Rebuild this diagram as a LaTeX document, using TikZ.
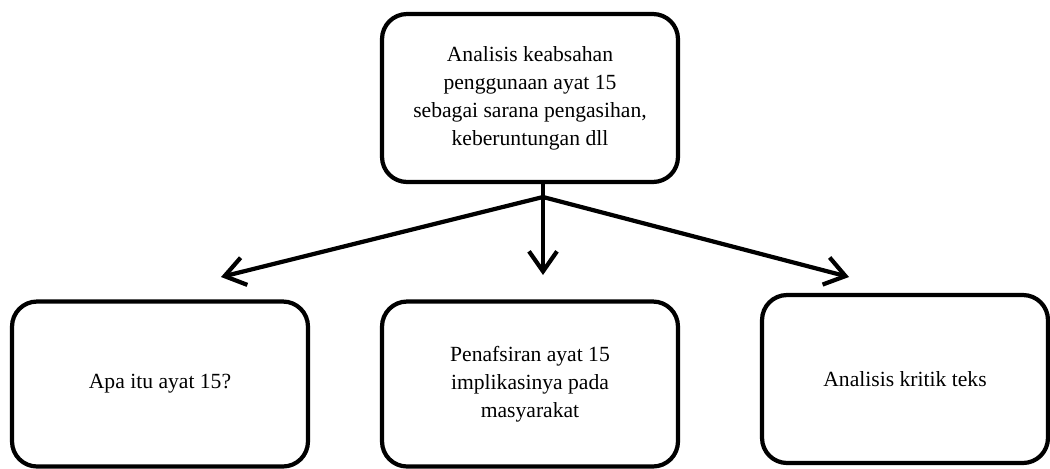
\documentclass[tikz,border=0pt]{standalone}
\usepackage{fontspec}
\setmainfont{Liberation Serif}
\usetikzlibrary{arrows.meta, positioning}

\begin{document}
\begin{tikzpicture}[x=0.02cm, y=-0.02cm,
    box/.style={rectangle, rounded corners=0.5cm, draw, line width=2.4pt, minimum width=5.92cm, minimum height=3.3cm, align=center, font=\fontsize{12.3}{15.9}\selectfont},
    arrow/.style={-{Straight Barb[length=0.4cm, width=0.56cm]}, line width=2.4pt}
]
\useasboundingbox (0,0) rectangle (1050,468);

% Boxes
\node[box, minimum height=3.36cm] (analisis) at (530,98) {Analisis keabsahan\\penggunaan ayat 15\\sebagai sarana pengasihan,\\keberuntungan dll};
\node[box] (apa) at (160,384) {Apa itu ayat 15?};
\node[box] (tafsir) at (530,384) {Penafsiran ayat 15\\implikasinya pada\\masyarakat};
\node[box, minimum width=5.72cm, minimum height=3.36cm] (kritik) at (905,379) {Analisis kritik teks};

% Branch point and arrow ends
\coordinate (fork) at (543,197);
\coordinate (apatip) at (221,277);
\coordinate (tafsirtip) at (543,275);
\coordinate (kritiktip) at (849,277);

% Arrows
\draw[arrow] (analisis.south -| fork) -- (tafsirtip);
\draw[arrow] (fork) -- (apatip);
\draw[arrow] (fork) -- (kritiktip);

\end{tikzpicture}
\end{document}
